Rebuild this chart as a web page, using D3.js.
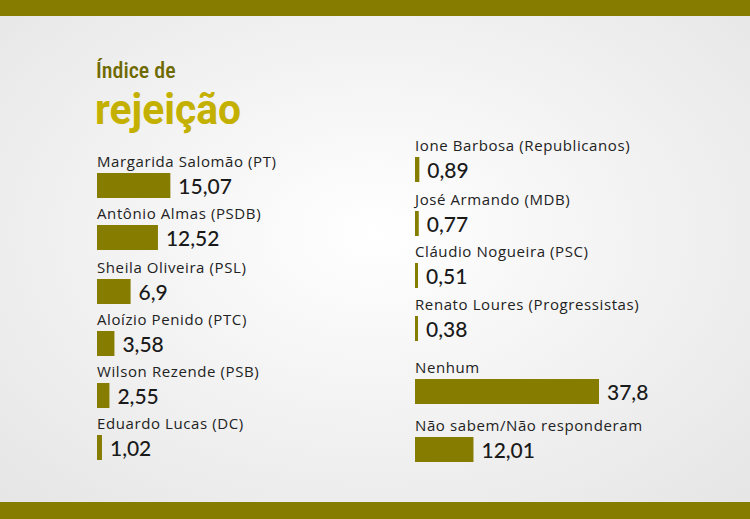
<!DOCTYPE html>
<html><head><meta charset="utf-8">
<script src="https://cdn.jsdelivr.net/npm/d3@7"></script>
<style>body{margin:0;}</style>
</head><body>
<div id="chart"></div>
<script>
var leftNames = ["Margarida Salomão (PT)", "Antônio Almas (PSDB)", "Sheila Oliveira (PSL)", "Aloízio Penido (PTC)", "Wilson Rezende (PSB)", "Eduardo Lucas (DC)"];
var leftValues = [15.07, 12.52, 6.9, 3.58, 2.55, 1.02];
var rightNames = ["Ione Barbosa (Republicanos)", "José Armando (MDB)", "Cláudio Nogueira (PSC)", "Renato Loures (Progressistas)", "Nenhum", "Não sabem/Não responderam"];
var rightValues = [0.89, 0.77, 0.51, 0.38, 37.8, 12.01];
var leftLabelY = [162, 214, 268, 320, 372, 424];
var rightLabelY = [146, 200, 252, 305, 368, 426];

var width = 750, height = 519;
var olive = "#857c00";

var svg = d3.select("#chart").append("svg").attr("width", width).attr("height", height);

var grad = svg.append("defs").append("radialGradient").attr("id", "bg").attr("cx", "50%").attr("cy", "45%").attr("r", "70%");
grad.append("stop").attr("offset", "0%").attr("stop-color", "#ffffff");
grad.append("stop").attr("offset", "100%").attr("stop-color", "#e6e6e6");
svg.append("rect").attr("width", width).attr("height", height).attr("fill", "url(#bg)");
svg.append("rect").attr("width", width).attr("height", 16).attr("fill", olive);
svg.append("rect").attr("y", 502).attr("width", width).attr("height", 17).attr("fill", olive);

svg.append("text").attr("x", 96).attr("y", 78).text("Índice de")
  .style("font-family", "Roboto Condensed, Roboto, sans-serif").style("font-size", "22px").style("font-weight", 500).attr("fill", "#6f6a00");
svg.append("text").attr("x", 95).attr("y", 124).text("rejeição")
  .style("font-family", "Roboto, sans-serif").style("font-size", "42px").style("font-weight", 700).attr("fill", "#c4b000")
  .attr("textLength", 146).attr("lengthAdjust", "spacingAndGlyphs");

var x = d3.scaleLinear().domain([0, 37.8]).range([0, 184]);
var fmt = function(v) { return String(v).replace(".", ","); };

function column(names, values, ys, x0) {
  var g = svg.append("g");
  var rows = g.selectAll("g").data(values).enter().append("g")
    .attr("transform", function(d, i) { return "translate(" + x0 + "," + ys[i] + ")"; });
  rows.append("text").text(function(d, i) { return names[i]; })
    .attr("y", 5).style("font-family", "Open Sans, sans-serif").style("font-size", "15px")
    .style("letter-spacing", "0.6px").attr("fill", "#222");
  rows.append("rect").attr("y", 11).attr("height", 25)
    .attr("width", function(d) { return Math.max(3, x(d)); }).attr("fill", olive);
  rows.append("text").text(function(d) { return fmt(d); })
    .attr("x", function(d) { return Math.max(3, x(d)) + 8; }).attr("y", 32)
    .style("font-family", "Lato, sans-serif").style("font-size", "21px").style("font-weight", 500).attr("fill", "#1a1a1a");
}
column(leftNames, leftValues, leftLabelY, 97);
column(rightNames, rightValues, rightLabelY, 415);
</script>
</body></html>
